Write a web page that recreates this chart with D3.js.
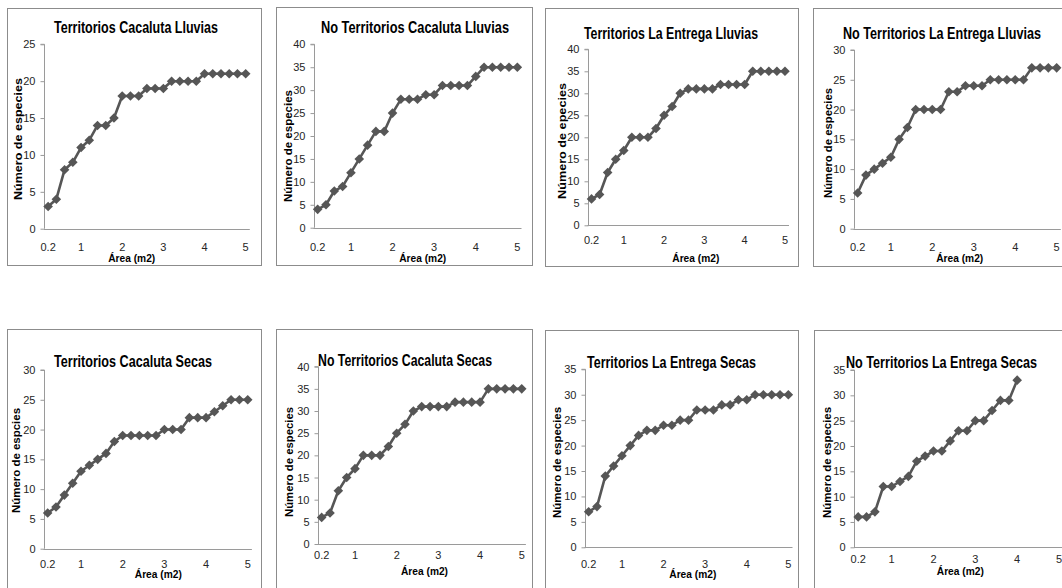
<!DOCTYPE html>
<html><head><meta charset="utf-8">
<script src="https://cdn.jsdelivr.net/npm/d3@7"></script>
<style>body{margin:0;background:#fff;} svg{display:block}</style>
</head><body><svg id="c" width="1062" height="588"></svg>
<script>
// ---------- data ----------
const areas = [0.2,0.4,0.6,0.8,1.0,1.2,1.4,1.6,1.8,2.0,2.2,2.4,2.6,2.8,3.0,3.2,3.4,3.6,3.8,4.0,4.2,4.4,4.6,4.8,5.0];
const tickAreas = [0.2,1.0,2.0,3.0,4.0,5.0];
const tickLabels = ["0.2","1","2","3","4","5"];

const titles = [
  "Territorios Cacaluta Lluvias",
  "No Territorios Cacaluta  Lluvias",
  "Territorios La Entrega Lluvias",
  "No Territorios La Entrega Lluvias",
  "Territorios Cacaluta Secas",
  "No Territorios Cacaluta Secas",
  "Territorios La Entrega Secas",
  "No Territorios La Entrega Secas"
];
const yTitles = [
  "Número de especies","Número de especies","Número de epecies","Número de especies",
  "Número de espcies","Número de especies","Número de especies","Número de especies"
];
const xTitle = "Área (m2)";
const yMaxes = [25,40,40,30,30,40,35,35];

const terrCacalutaLluvias   = [3,4,8,9,11,12,14,14,15,18,18,18,19,19,19,20,20,20,20,21,21,21,21,21,21];
const noTerrCacalutaLluvias = [4,5,8,9,12,15,18,21,21,25,28,28,28,29,29,31,31,31,31,33,35,35,35,35,35];
const terrEntregaLluvias    = [6,7,12,15,17,20,20,20,22,25,27,30,31,31,31,31,32,32,32,32,35,35,35,35,35];
const noTerrEntregaLluvias  = [6,9,10,11,12,15,17,20,20,20,20,23,23,24,24,24,25,25,25,25,25,27,27,27,27];
const terrCacalutaSecas     = [6,7,9,11,13,14,15,16,18,19,19,19,19,19,20,20,20,22,22,22,23,24,25,25,25];
const noTerrCacalutaSecas   = [6,7,12,15,17,20,20,20,22,25,27,30,31,31,31,31,32,32,32,32,35,35,35,35,35];
const terrEntregaSecas      = [7,8,14,16,18,20,22,23,23,24,24,25,25,27,27,27,28,28,29,29,30,30,30,30,30];
const noTerrEntregaSecas    = [6,6,7,12,12,13,14,17,18,19,19,21,23,23,25,25,27,29,29,33,null,null,null,null,null];

const seriesList = [terrCacalutaLluvias, noTerrCacalutaLluvias, terrEntregaLluvias, noTerrEntregaLluvias,
                    terrCacalutaSecas, noTerrCacalutaSecas, terrEntregaSecas, noTerrEntregaSecas];

// ---------- layout (positions only) ----------
const layout = [
 {box:[7,8,254,257],   plot:[44,44.3,249.8,228.7],   title:[136,33,164],   xTick:247,   xT:[131.7,258.3], yT:[18,139,122]},
 {box:[276,7,256,258], plot:[313.5,44.3,521.5,227.7],title:[415,33.3,188], xTick:246.7, xT:[422.7,258.3], yT:[288.3,146,112]},
 {box:[545,8,253,258], plot:[587.5,49.3,789,225.3],  title:[671,39.3,174], xTick:240,   xT:[695.8,258.3], yT:[561.7,141,116]},
 {box:[813,8,260,258], plot:[853.5,50,1060.8,228.7], title:[942,39.3,198], xTick:246.7, xT:[959.7,258.3], yT:[828.3,143,110]},
 {box:[7,329,254,265], plot:[43.5,370,251.9,548.7],  title:[133,366.7,158],xTick:564,   xT:[158.3,574.5], yT:[16,460.5,105]},
 {box:[276,329,256,265],plot:[317.5,366.7,525.9,544],title:[405,365.7,174],xTick:555,   xT:[424.5,571], yT:[289.3,462,110]},
 {box:[545,330,253,265],plot:[584.5,369.3,792.5,547.3],title:[671.5,368.3,169],xTick:564,xT:[692.8,574.5], yT:[556.7,462.5,111]},
 {box:[814,330,260,265],plot:[854,370,1063.2,547.3], title:[941.5,368.3,191],xTick:559,  xT:[960.3,571],   yT:[827.3,462.5,111]}
];

const svg = d3.select("#c");
const FONT = "'Liberation Sans Narrow','Arial Narrow','Liberation Sans',sans-serif";
const lineColor = "#565656";
const axisColor = "#9a9a9a";

const diamond = r => `M0,${-r}L${r},0L0,${r}L${-r},0Z`;

seriesList.forEach((vals, i) => {
  const L = layout[i];
  const g = svg.append("g");
  // frame
  g.append("rect").attr("x", L.box[0]+0.5).attr("y", L.box[1]+0.5)
    .attr("width", L.box[2]).attr("height", L.box[3])
    .attr("fill", "#fff").attr("stroke", "#8c8c8c").attr("stroke-width", 1);

  const [x0, yTop, x1, yBot] = L.plot;
  const x = d3.scalePoint().domain(areas).range([x0, x1]).padding(0.5);
  const y = d3.scaleLinear().domain([0, yMaxes[i]]).range([yBot, yTop]);

  // y axis
  const yAxis = d3.axisLeft(y).tickValues(d3.range(0, yMaxes[i] + 1, 5)).tickSize(4).tickPadding(5);
  const ga = g.append("g").attr("transform", `translate(${Math.round(x0)+0.5},0)`).call(yAxis);
  ga.select(".domain").attr("stroke", axisColor).attr("d", `M-4,${y(yMaxes[i])}H0V${y(0)}`);
  ga.selectAll(".tick line").attr("stroke", axisColor);
  ga.selectAll(".tick text").attr("font-family", FONT).attr("font-size", 11).attr("fill", "#262626");

  // x axis line
  g.append("line").attr("x1", x0).attr("x2", x1)
    .attr("y1", Math.round(yBot)+0.5).attr("y2", Math.round(yBot)+0.5)
    .attr("stroke", axisColor);

  // x tick labels
  g.selectAll(".xl").data(tickAreas).enter().append("text")
    .attr("x", (d) => x(d)).attr("y", L.xTick).attr("dy", "0.35em")
    .attr("text-anchor", "middle").attr("font-family", FONT).attr("font-size", 11).attr("fill", "#262626")
    .text((d, k) => tickLabels[k]);

  // line
  const pts = areas.map((a, k) => ({a, v: vals[k]}));
  const line = d3.line().defined(d => d.v != null).x(d => x(d.a)).y(d => y(d.v));
  g.append("path").datum(pts).attr("d", line).attr("fill", "none")
    .attr("stroke", lineColor).attr("stroke-width", 2.6).attr("stroke-linejoin", "round");
  g.selectAll(".m").data(pts.filter(d => d.v != null)).enter().append("path")
    .attr("transform", d => `translate(${x(d.a)},${y(d.v)})`)
    .attr("d", diamond(4.8)).attr("fill", lineColor);

  // title
  g.append("text").attr("x", L.title[0]).attr("y", L.title[1])
    .attr("text-anchor", "middle").attr("font-family", FONT).attr("font-weight", "bold")
    .attr("font-size", 16.5).attr("fill", "#000")
    .attr("textLength", L.title[2]).attr("lengthAdjust", "spacingAndGlyphs")
    .text(titles[i]);

  // x title
  g.append("text").attr("x", L.xT[0]).attr("y", L.xT[1]).attr("dy", "0.35em")
    .attr("text-anchor", "middle").attr("font-family", FONT).attr("font-weight", "bold")
    .attr("font-size", 10.5).attr("fill", "#000")
    .attr("textLength", 47).attr("lengthAdjust", "spacingAndGlyphs")
    .text(xTitle);

  // y title
  g.append("text").attr("transform", `translate(${L.yT[0]},${L.yT[1]}) rotate(-90)`)
    .attr("dy", "0.35em").attr("text-anchor", "middle").attr("font-family", FONT).attr("font-weight", "bold")
    .attr("font-size", 11).attr("fill", "#000")
    .attr("textLength", L.yT[2]).attr("lengthAdjust", "spacingAndGlyphs")
    .text(yTitles[i]);
});
</script>
</body></html>
